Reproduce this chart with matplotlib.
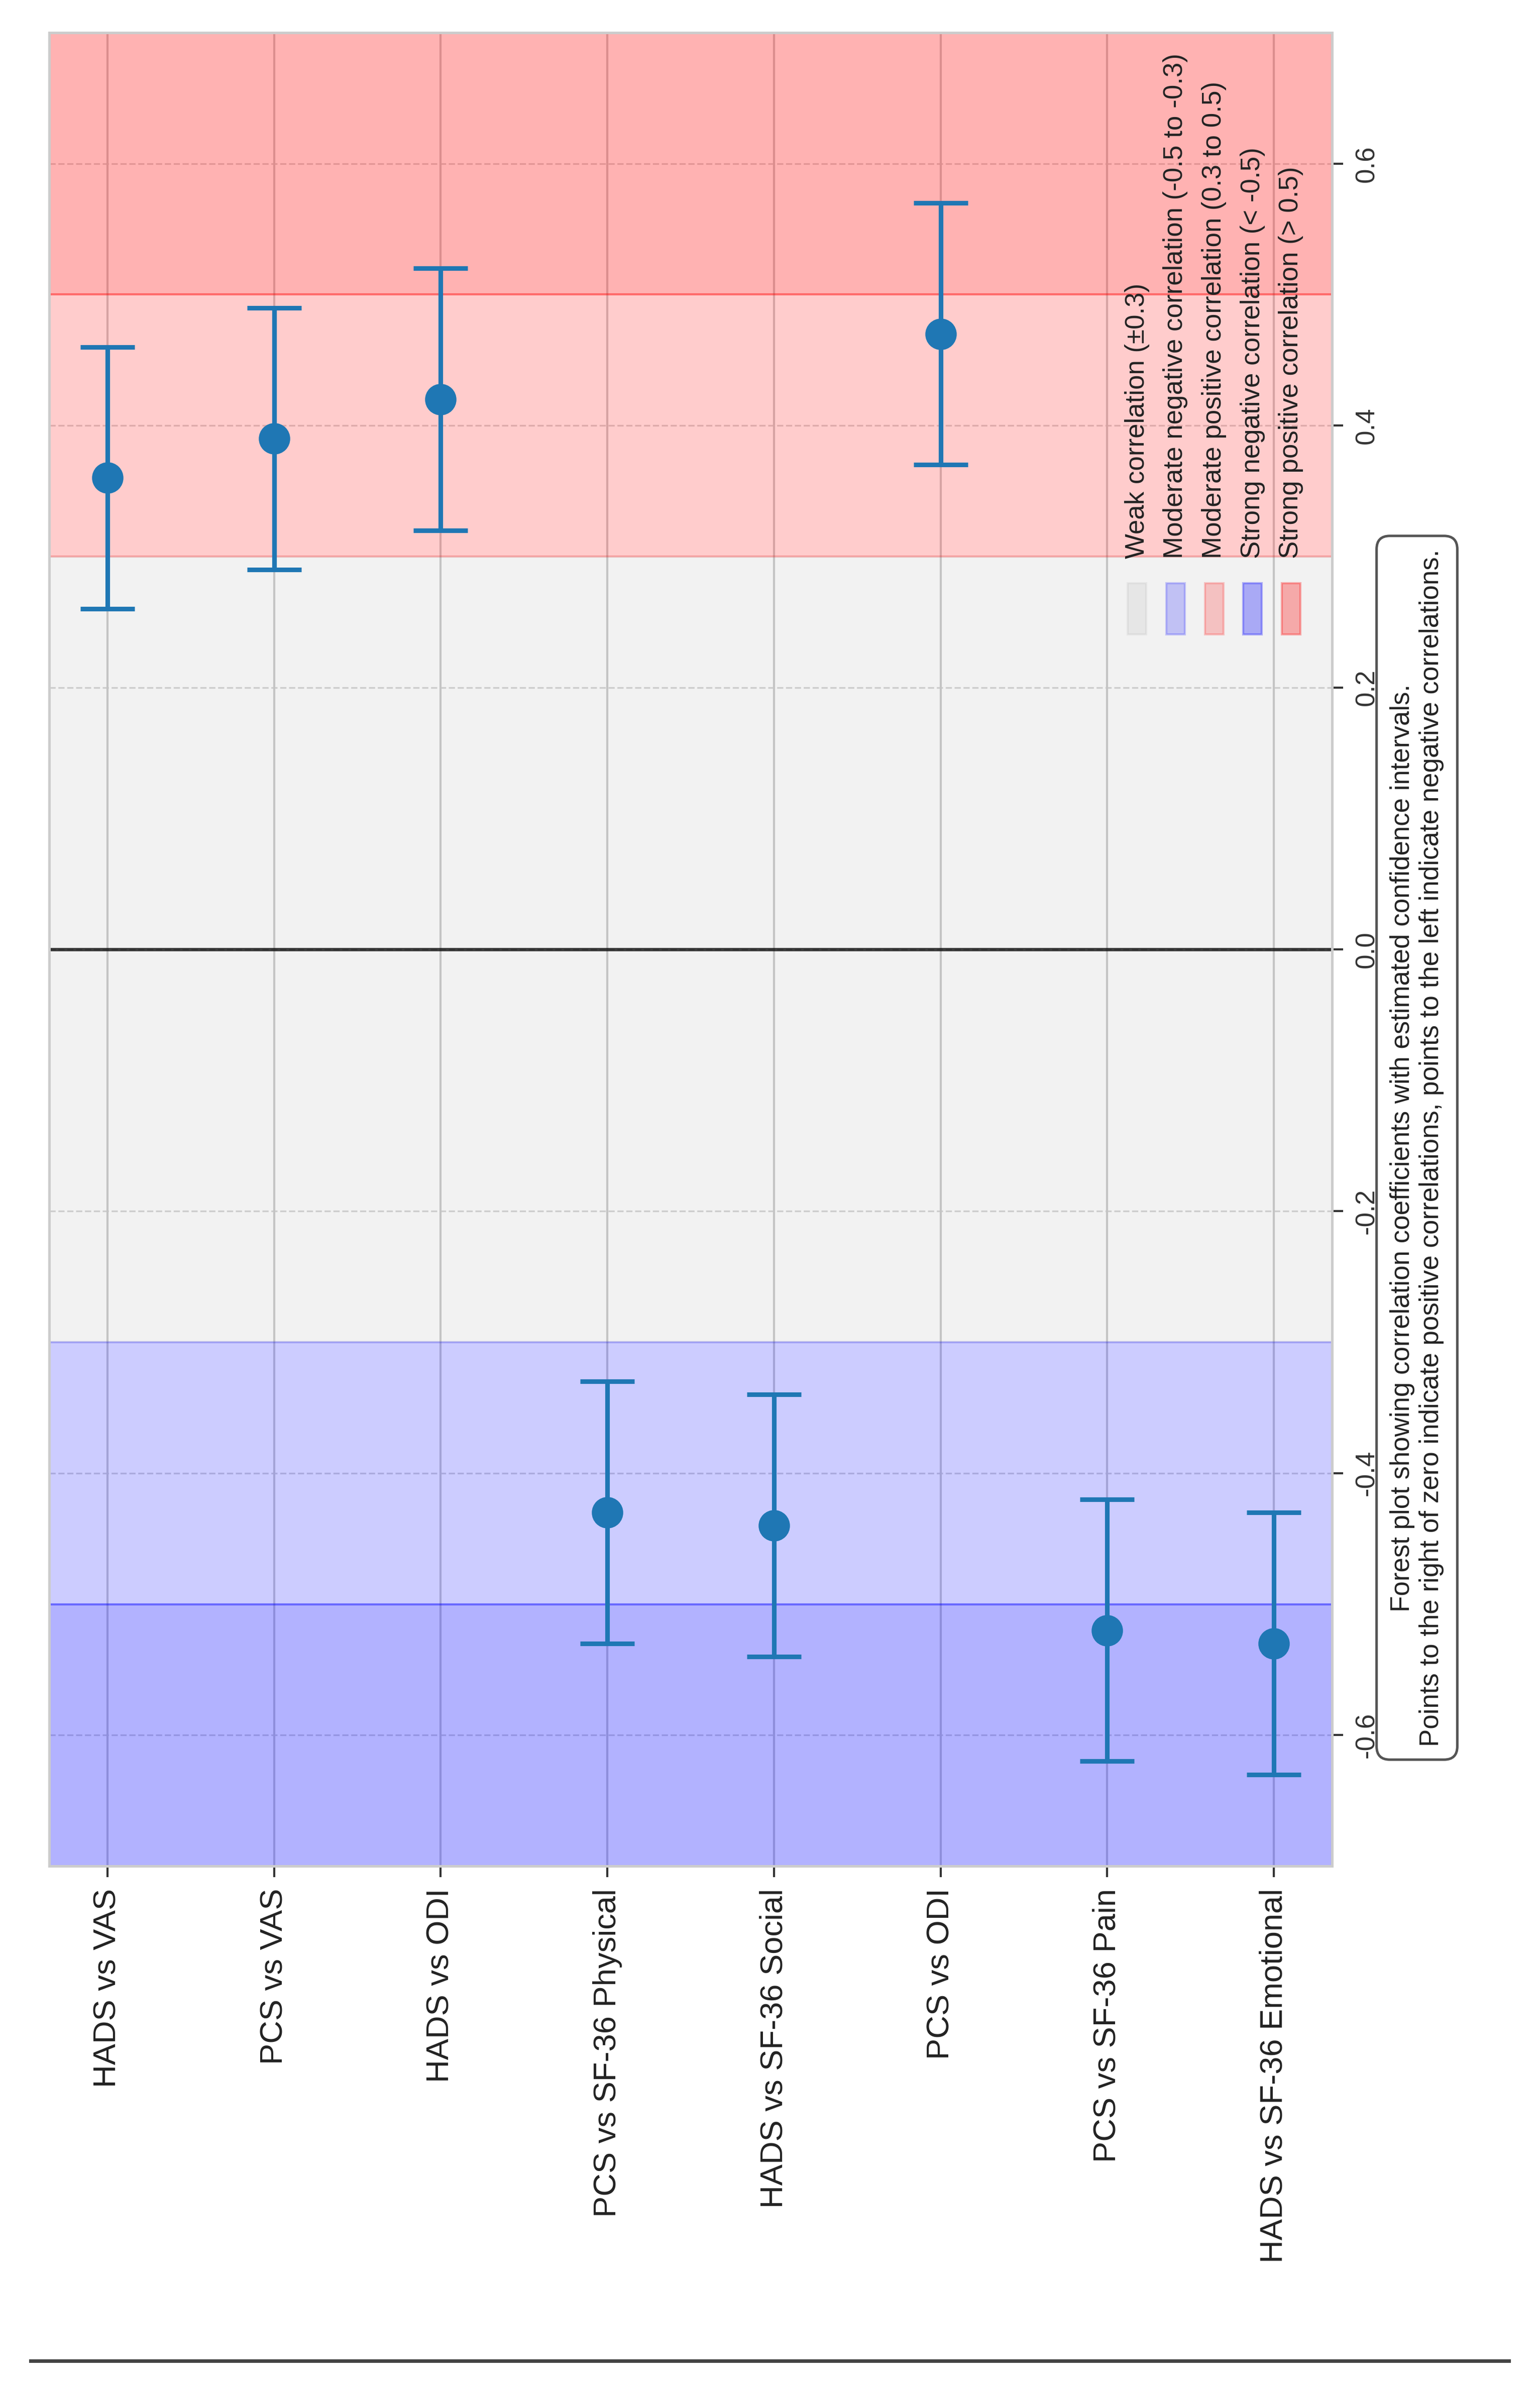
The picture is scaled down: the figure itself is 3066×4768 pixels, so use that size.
import numpy as np
import matplotlib
matplotlib.use("Agg")
import matplotlib.pyplot as plt
from matplotlib.patches import Rectangle
from matplotlib.lines import Line2D

plt.rcParams['font.family'] = ['Liberation Sans', 'DejaVu Sans']
plt.rcParams['axes.unicode_minus'] = False

# ---------------------------------------------------------------------------
# data
# ---------------------------------------------------------------------------
pairs = ['HADS vs VAS', 'PCS vs VAS', 'HADS vs ODI', 'PCS vs SF-36 Physical',
         'HADS vs SF-36 Social', 'PCS vs ODI', 'PCS vs SF-36 Pain',
         'HADS vs SF-36 Emotional']
r_values = [0.36, 0.39, 0.42, -0.43, -0.44, 0.47, -0.52, -0.53]
ci_low = [0.26, 0.29, 0.32, -0.53, -0.54, 0.37, -0.62, -0.63]
ci_high = [0.46, 0.49, 0.52, -0.33, -0.34, 0.57, -0.42, -0.43]

r_ticks = [-0.6, -0.4, -0.2, 0.0, 0.2, 0.4, 0.6]

band_labels = ['Weak correlation (±0.3)',
               'Moderate negative correlation (-0.5 to -0.3)',
               'Moderate positive correlation (0.3 to 0.5)',
               'Strong negative correlation (< -0.5)',
               'Strong positive correlation (> 0.5)']
band_lo = [-0.3, -0.5, 0.3, -1.0, 0.5]
band_hi = [0.3, -0.3, 0.5, -0.5, 1.0]
band_colors = ['gray', 'blue', 'red', 'blue', 'red']
band_alpha = [0.1, 0.2, 0.2, 0.3, 0.3]

note = ('Forest plot showing correlation coefficients with estimated confidence intervals.\n'
        'Points to the right of zero indicate positive correlations, points to the left indicate negative correlations.')

# ---------------------------------------------------------------------------
# figure (drawn already turned by 90 degrees, like the page)
# ---------------------------------------------------------------------------
W_px, H_px, dpi = 3066, 4768, 300
fig = plt.figure(figsize=(W_px/dpi, H_px/dpi), dpi=dpi)
ax = fig.add_axes([98/W_px, 1-3715/H_px, (2652-98)/W_px, (3715-65)/H_px])
ax.set_facecolor('white')
ax.set_axisbelow(True)

x = np.arange(len(pairs))

for lo, hi, c, a in zip(band_lo, band_hi, band_colors, band_alpha):
    ax.axhspan(lo, hi, color=c, alpha=a, zorder=1)

ax.axhline(0, color='black', lw=1.6, alpha=0.75, zorder=2)

r = np.array(r_values)
err = [r - np.array(ci_low), np.array(ci_high) - r]
ax.errorbar(x, r, yerr=err, fmt='o', color='#1f77b4', markersize=14,
            capsize=13, elinewidth=2.2, capthick=2.2, zorder=3)

ax.set_xlim(-0.35, len(pairs) - 1 + 0.35)
ax.set_ylim(-0.7, 0.7)

ax.set_xticks(x)
ax.set_xticklabels(pairs, rotation=90, fontsize=15.2, color='#222222')
ax.set_yticks(r_ticks)
ax.yaxis.tick_right()
ax.set_yticklabels(['%.1f' % t for t in r_ticks], rotation=90, fontsize=12.7,
                   color='#333333', va='center')

ax.tick_params(axis='both', length=5.2, width=1.0, color='#333333', pad=5.5)

ax.grid(axis='x', color='#cccccc', lw=1.0, ls='-')
ax.grid(axis='y', color='#cccccc', lw=0.8, ls='--', alpha=0.8)
for s in ax.spines.values():
    s.set_color('#cccccc')
    s.set_linewidth(1.2)

# legend, written turned like the rest
lx0, lstep = 0.848, 0.030
for i, (lab, c, a) in enumerate(zip(band_labels, band_colors, band_alpha)):
    cx = lx0 + i*lstep
    ax.add_patch(Rectangle((cx - 0.00725, 0.6718), 0.0145, 0.0279,
                           transform=ax.transAxes, facecolor=c, edgecolor=c,
                           alpha=a, lw=1.0, zorder=4))
    ax.text(cx, 0.7132, lab, transform=ax.transAxes, rotation=90,
            ha='center', va='bottom', fontsize=12.7, color='#222222', zorder=5)

fig.text(2821/W_px, 1-2285/H_px, note, rotation=90, ha='center', va='center',
         multialignment='center', fontsize=12.7, color='#222222',
         bbox=dict(boxstyle='round,pad=0.5', facecolor='white',
                   edgecolor='#555555', lw=1.2))

fig.add_artist(Line2D([61/W_px, 3004/W_px], [1-4700/H_px, 1-4700/H_px],
                      color='#444444', lw=1.7))

fig.savefig('out.png', dpi=dpi, facecolor='white')
